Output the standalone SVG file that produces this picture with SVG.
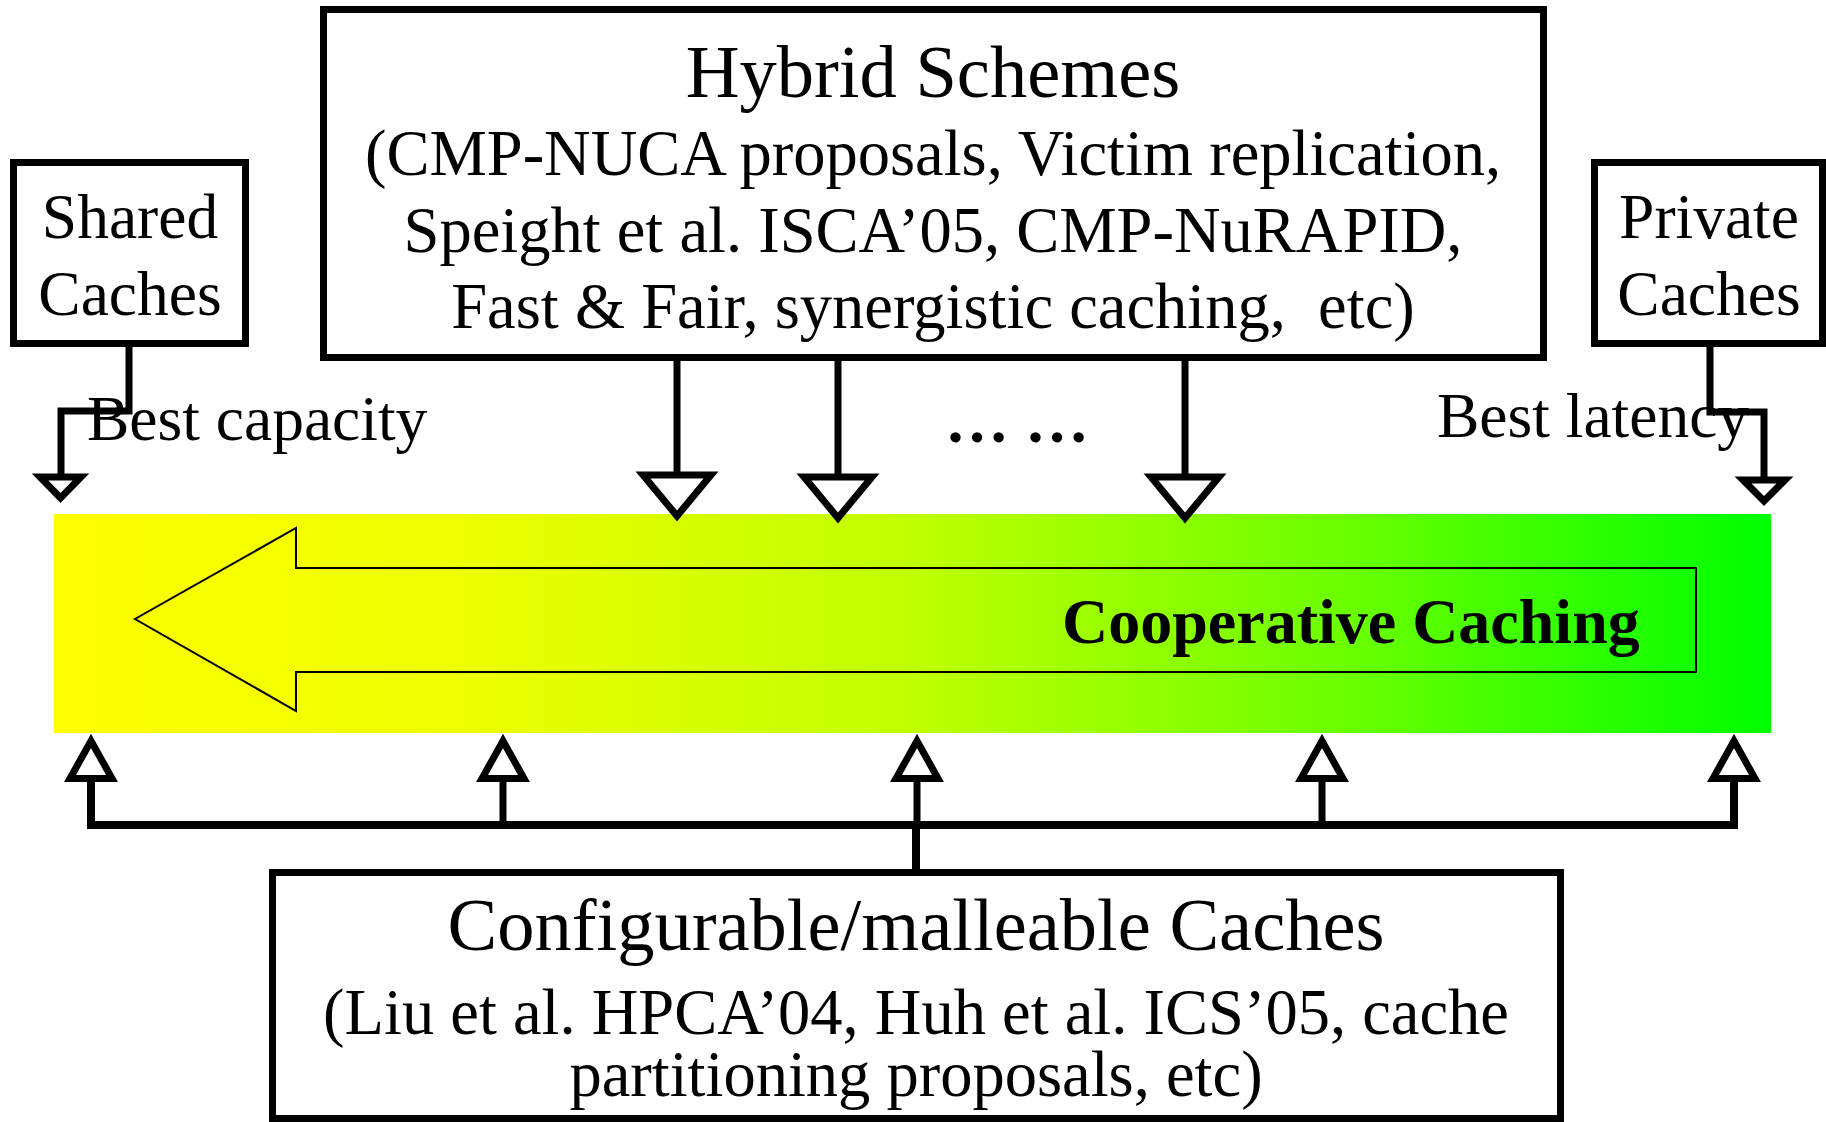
<svg xmlns="http://www.w3.org/2000/svg" width="1826" height="1122" viewBox="0 0 1826 1122">
<defs>
<linearGradient id="grad" x1="0" y1="0" x2="1" y2="0">
<stop offset="0" stop-color="#ffff00"/>
<stop offset="0.25" stop-color="#ecff00"/>
<stop offset="0.5" stop-color="#c0ff00"/>
<stop offset="0.75" stop-color="#6cff00"/>
<stop offset="1" stop-color="#00ff00"/>
</linearGradient>
<style>
.box{fill:#fff;stroke:#000;stroke-width:7}
.t{font-family:"Liberation Serif","Times New Roman",serif;fill:#000}
.c{text-anchor:middle}
.ln{fill:none;stroke:#000;stroke-width:7}
.tri{fill:#fff;stroke:#000;stroke-width:7;stroke-linejoin:miter}
</style>
</defs>
<rect width="1826" height="1122" fill="#fff"/>

<g id="cooperative-caching">
<rect x="54" y="514" width="1717" height="219" fill="url(#grad)"/>
<polygon points="1696,568 296,568 296,528 135,619 296,711 296,672 1696,672" fill="none" stroke="#000" stroke-width="2"/>
<text class="t" x="1062" y="643" font-size="64" font-weight="bold">Cooperative Caching</text>
</g>

<g id="connectors">
<polyline class="ln" points="129,347 129,411 61,411 61,478"/>
<path class="tri" d="M40,477 L81,477 L60.5,498 Z"/>
<polyline class="ln" points="1710,347 1710,412 1764,412 1764,480"/>
<path class="tri" d="M1743,480 L1785,480 L1764,501 Z"/>
<line class="ln" x1="677" y1="360" x2="677" y2="475"/>
<line class="ln" x1="838" y1="360" x2="838" y2="477"/>
<line class="ln" x1="1185" y1="360" x2="1185" y2="477"/>
<path class="tri" d="M643,475 L711,475 L677,516 Z"/>
<path class="tri" d="M804,477 L872,477 L838,518 Z"/>
<path class="tri" d="M1151,477 L1219,477 L1185,518 Z"/>
<polyline class="ln" points="91,778 91,825 1734,825 1734,778" style="stroke-width:8"/>
<line class="ln" x1="503" y1="778" x2="503" y2="825"/>
<line class="ln" x1="917" y1="778" x2="917" y2="825"/>
<line class="ln" x1="1322" y1="778" x2="1322" y2="825"/>
<line class="ln" x1="916" y1="825" x2="916" y2="870" style="stroke-width:8"/>
<path class="tri" d="M70,778.5 L112,778.5 L91,741 Z"/>
<path class="tri" d="M482,778.5 L524,778.5 L503,741 Z"/>
<path class="tri" d="M896,778.5 L938,778.5 L917,741 Z"/>
<path class="tri" d="M1301,778.5 L1343,778.5 L1322,741 Z"/>
<path class="tri" d="M1713,778.5 L1755,778.5 L1734,741 Z"/>
</g>

<g id="shared-caches">
<rect class="box" x="13.5" y="162.5" width="232" height="181"/>
<text class="t c" x="130" y="238" font-size="63.5">Shared</text>
<text class="t c" x="130" y="315" font-size="63.5">Caches</text>
</g>

<g id="private-caches">
<rect class="box" x="1594.5" y="162.5" width="228" height="181"/>
<text class="t c" x="1709" y="238" font-size="63.5">Private</text>
<text class="t c" x="1709" y="315" font-size="63.5">Caches</text>
</g>

<g id="hybrid-schemes">
<rect class="box" x="323.5" y="9.5" width="1220" height="348"/>
<text class="t c" x="933" y="97" font-size="74.5">Hybrid Schemes</text>
<text class="t c" x="933" y="175" font-size="64.5">(CMP-NUCA proposals, Victim replication,</text>
<text class="t c" x="933" y="252" font-size="64.5">Speight et al. ISCA’05, CMP-NuRAPID,</text>
<text class="t c" x="933" y="328" font-size="64.5" xml:space="preserve">Fast &amp; Fair, synergistic caching,  etc)</text>
</g>

<g id="configurable-caches">
<rect class="box" x="272.5" y="872.5" width="1288" height="246"/>
<text class="t c" x="916" y="950" font-size="74.5">Configurable/malleable Caches</text>
<text class="t c" x="916" y="1034" font-size="64.5">(Liu et al. HPCA’04, Huh et al. ICS’05, cache</text>
<text class="t c" x="916" y="1096" font-size="64.5">partitioning proposals, etc)</text>
</g>

<g id="labels">
<text class="t" x="87" y="440" font-size="63.5">Best capacity</text>
<text class="t" x="1437" y="437" font-size="63.5">Best latency</text>
<text class="t c" x="1017" y="442" font-size="64" font-weight="bold">… …</text>
</g>
</svg>
